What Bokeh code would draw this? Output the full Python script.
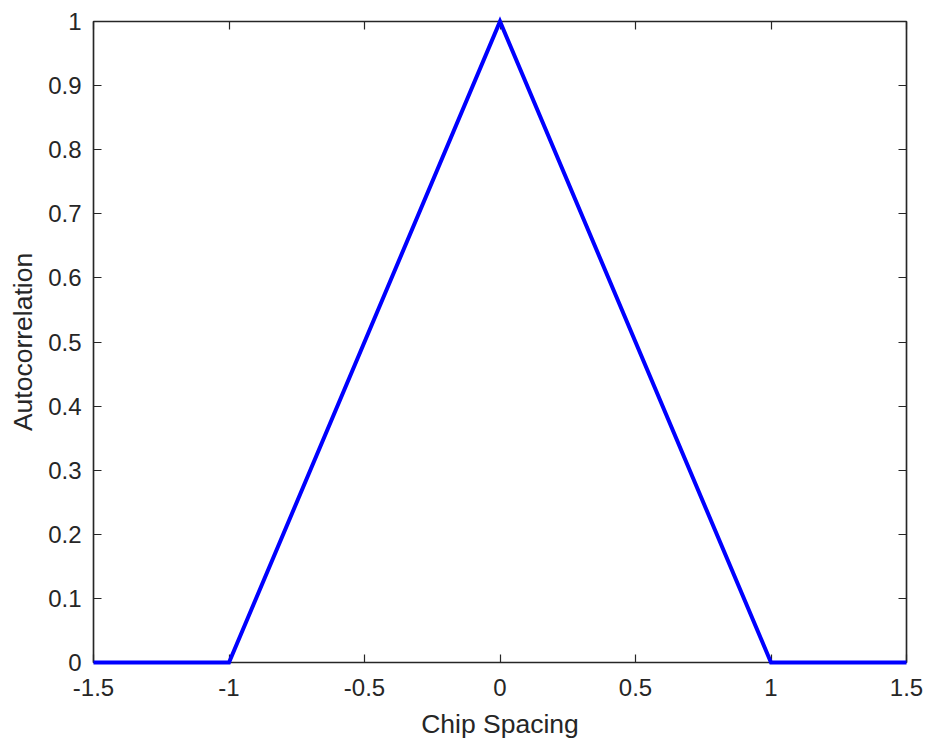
from bokeh.plotting import figure
from bokeh.models import LinearAxis, Range1d, FixedTicker
from bokeh.embed import file_html
from bokeh.resources import INLINE

# Triangular autocorrelation of a rectangular chip
chip_spacing = [-1.5, -1.0, 0.0, 1.0, 1.5]
autocorrelation = [0.0, 0.0, 1.0, 0.0, 0.0]

x_ticks = [-1.5, -1.0, -0.5, 0.0, 0.5, 1.0, 1.5]
x_tick_labels = ["-1.5", "-1", "-0.5", "0", "0.5", "1", "1.5"]
y_ticks = [0.0, 0.1, 0.2, 0.3, 0.4, 0.5, 0.6, 0.7, 0.8, 0.9, 1.0]
y_tick_labels = ["0", "0.1", "0.2", "0.3", "0.4", "0.5", "0.6", "0.7", "0.8", "0.9", "1"]

AX = "#262626"
FONT = "Liberation Sans"

p = figure(
    width=927, height=740,
    frame_width=813, frame_height=641,
    x_range=Range1d(-1.5, 1.5), y_range=Range1d(0, 1),
    output_backend="svg", toolbar_location=None,
    x_axis_label="Chip Spacing", y_axis_label="Autocorrelation",
)
p.min_border_left = 93
p.min_border_right = 21
p.min_border_top = 21
p.min_border_bottom = 78
p.background_fill_color = "white"
p.border_fill_color = "white"
p.outline_line_color = AX
p.outline_line_width = 1.5
p.xgrid.visible = False
p.ygrid.visible = False

def style_axis(ax, ticks, labels):
    ax.ticker = FixedTicker(ticks=ticks)
    ax.major_label_overrides = {t: l for t, l in zip(ticks, labels)}
    ax.axis_line_color = AX
    ax.axis_line_width = 1.2
    ax.major_tick_line_color = AX
    ax.major_tick_line_width = 1.2
    ax.major_tick_in = 8
    ax.major_tick_out = 0
    ax.minor_tick_line_color = None
    ax.major_label_text_font = FONT
    ax.major_label_text_font_size = "24px"
    ax.major_label_text_color = AX
    ax.axis_label_text_font = FONT
    ax.axis_label_text_font_size = "26.5px"
    ax.axis_label_text_font_style = "normal"
    ax.axis_label_text_color = AX

style_axis(p.xaxis[0], x_ticks, x_tick_labels)
style_axis(p.yaxis[0], y_ticks, y_tick_labels)
p.xaxis[0].major_label_standoff = 16
p.xaxis[0].axis_label_standoff = 10
p.yaxis[0].major_label_standoff = 12
p.yaxis[0].axis_label_standoff = 7

# Box ticks on the top and right edges, without labels
for loc in ("right", "above"):
    ticks = y_ticks if loc == "right" else x_ticks
    extra = LinearAxis()
    style_axis(extra, ticks, ["" for _ in ticks])
    extra.major_label_text_font_size = "0px"
    extra.major_label_standoff = 0
    p.add_layout(extra, loc)

p.line(chip_spacing, autocorrelation, line_color="#0000FF", line_width=4,
       line_join="miter", level="overlay")

open("out.html", "w").write(file_html(p, INLINE))
